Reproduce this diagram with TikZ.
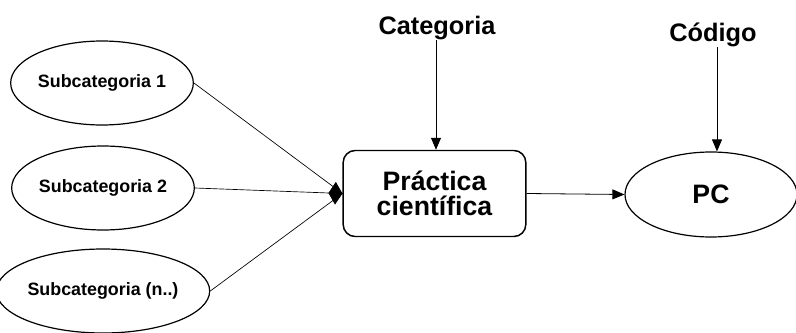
\documentclass[tikz,border=0pt]{standalone}
\usepackage{fontspec}
\setmainfont{Liberation Sans}
\usetikzlibrary{arrows.meta, positioning, shapes.geometric}

\tikzset{
  subcat/.style={ellipse, draw, line width=0.9pt, minimum width=137pt, minimum height=63pt,
    inner sep=0pt, font=\bfseries\fontsize{13.4}{16}\selectfont},
  toplabel/.style={inner sep=0pt, font=\bfseries\fontsize{19}{19}\selectfont},
  link/.style={line width=0.5pt},
  flow/.style={line width=0.6pt, -{Triangle[length=9pt, width=7.5pt]}}
}

\begin{document}
\begin{tikzpicture}[x=0.75pt, y=-0.75pt]
  \useasboundingbox (0,0) rectangle (796,332);
  % left column
  \node[subcat] (sub1) at (102,83) {Subcategoria 1};
  \node[subcat] (sub2) at (103,188) {Subcategoria 2};
  \node[subcat] (sub3) at (103,291) {Subcategoria (n..)};
  % middle and right
  \node[draw, rounded corners=9pt, line width=1.1pt, minimum width=137pt, minimum height=64.5pt,
    align=center, font=\bfseries\fontsize{20}{19}\selectfont] (prac) at (434.5,193.5) {Práctica\\científica};
  \node[ellipse, draw, line width=0.9pt, minimum width=129pt, minimum height=63.75pt,
    font=\bfseries\fontsize{20}{20}\selectfont] (pc) at (711,194.5) {PC};
  \node[toplabel] (cat) at (437,28) {Categoria};
  \node[toplabel] (cod) at (713,35) {Código};

  \draw[link] (sub1.east) -- (prac.west);
  \draw[link] (sub3.east) -- (prac.west);
  \draw[link, -{Diamond[length=10.5pt, width=17pt]}] (sub2.east) -- (prac.west);
  \draw[flow] (cat.south -| 436,0) -- (436,0 |- prac.north);
  \draw[flow] (cod.south -| 717,0) -- (717,0 |- pc.north);
  \draw[flow] (prac.east) -- (pc.west);
\end{tikzpicture}
\end{document}
